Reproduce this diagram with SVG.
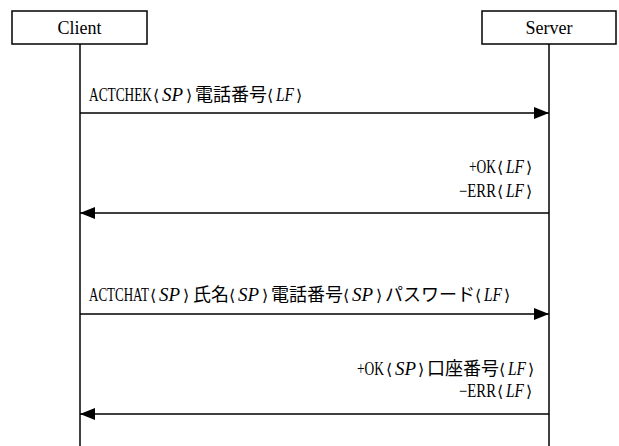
<svg xmlns="http://www.w3.org/2000/svg" width="619" height="446" viewBox="0 0 619 446">
<style>
.box{fill:#fff;stroke:#000;stroke-width:1.5}
.life{stroke:#000;stroke-width:1.5;fill:none}
.msg{stroke:#000;stroke-width:1.5;fill:none;marker-end:url(#ah)}
.t{font-size:18px;fill:#000}
.lbl{font-size:18px;fill:#000}
.it{font-style:italic}
.br{font-size:16px}
.cj{font-size:18px}
</style>
<defs>
<marker id="ah" markerUnits="userSpaceOnUse" markerWidth="15" markerHeight="12" refX="15" refY="6" orient="auto" viewBox="0 0 15 12">
<path d="M0,0 L15,6 L0,12 z" fill="#000"/>
</marker>
</defs>
<g id="client">
<rect class="box" x="12" y="11" width="135" height="33"/>
<text class="lbl" font-family="Liberation Serif, Times New Roman, serif" x="79.5" y="34" text-anchor="middle">Client</text>
<line class="life" x1="80" y1="44" x2="80" y2="446"/>
</g>
<g id="server">
<rect class="box" x="482" y="11" width="134" height="33"/>
<text class="lbl" font-family="Liberation Serif, Times New Roman, serif" x="549" y="34" text-anchor="middle">Server</text>
<line class="life" x1="549" y1="44" x2="549" y2="446"/>
</g>
<g id="connectors">
<line class="msg" x1="80" y1="113" x2="549" y2="113"/>
<line class="msg" x1="549" y1="213" x2="80" y2="213"/>
<line class="msg" x1="80" y1="314" x2="549" y2="314"/>
<line class="msg" x1="549" y1="414" x2="80" y2="414"/>
</g>
<g id="labels" font-family="Liberation Serif, Times New Roman, serif">
<text class="t" y="101"><tspan x="89" textLength="63" lengthAdjust="spacingAndGlyphs">ACTCHEK</tspan><tspan class="br" font-family="DejaVu Serif, DejaVu Sans, serif" x="153">⟨</tspan><tspan class="it" x="162" textLength="21" lengthAdjust="spacingAndGlyphs">SP</tspan><tspan class="br" font-family="DejaVu Serif, DejaVu Sans, serif" x="186">⟩</tspan><tspan class="cj" font-family="Noto Sans CJK JP, sans-serif" x="195">電話番号</tspan><tspan class="br" font-family="DejaVu Serif, DejaVu Sans, serif" x="267">⟨</tspan><tspan class="it" x="276" textLength="18" lengthAdjust="spacingAndGlyphs">LF</tspan><tspan class="br" font-family="DejaVu Serif, DejaVu Sans, serif" x="296">⟩</tspan></text>
<text class="t" y="173"><tspan x="469" textLength="27" lengthAdjust="spacingAndGlyphs">+OK</tspan><tspan class="br" font-family="DejaVu Serif, DejaVu Sans, serif" x="497">⟨</tspan><tspan class="it" x="506" textLength="18" lengthAdjust="spacingAndGlyphs">LF</tspan><tspan class="br" font-family="DejaVu Serif, DejaVu Sans, serif" x="526">⟩</tspan></text>
<text class="t" y="197"><tspan x="459" textLength="37" lengthAdjust="spacingAndGlyphs">−ERR</tspan><tspan class="br" font-family="DejaVu Serif, DejaVu Sans, serif" x="497">⟨</tspan><tspan class="it" x="506" textLength="18" lengthAdjust="spacingAndGlyphs">LF</tspan><tspan class="br" font-family="DejaVu Serif, DejaVu Sans, serif" x="526">⟩</tspan></text>
<text class="t" y="301"><tspan x="89" textLength="60" lengthAdjust="spacingAndGlyphs">ACTCHAT</tspan><tspan class="br" font-family="DejaVu Serif, DejaVu Sans, serif" x="150">⟨</tspan><tspan class="it" x="159" textLength="21" lengthAdjust="spacingAndGlyphs">SP</tspan><tspan class="br" font-family="DejaVu Serif, DejaVu Sans, serif" x="183">⟩</tspan><tspan class="cj" font-family="Noto Sans CJK JP, sans-serif" x="193">氏名</tspan><tspan class="br" font-family="DejaVu Serif, DejaVu Sans, serif" x="229">⟨</tspan><tspan class="it" x="238" textLength="21" lengthAdjust="spacingAndGlyphs">SP</tspan><tspan class="br" font-family="DejaVu Serif, DejaVu Sans, serif" x="262">⟩</tspan><tspan class="cj" font-family="Noto Sans CJK JP, sans-serif" x="271">電話番号</tspan><tspan class="br" font-family="DejaVu Serif, DejaVu Sans, serif" x="343">⟨</tspan><tspan class="it" x="352" textLength="21" lengthAdjust="spacingAndGlyphs">SP</tspan><tspan class="br" font-family="DejaVu Serif, DejaVu Sans, serif" x="376">⟩</tspan><tspan class="cj" font-family="Noto Sans CJK JP, sans-serif" x="385">パスワード</tspan><tspan class="br" font-family="DejaVu Serif, DejaVu Sans, serif" x="475">⟨</tspan><tspan class="it" x="484" textLength="18" lengthAdjust="spacingAndGlyphs">LF</tspan><tspan class="br" font-family="DejaVu Serif, DejaVu Sans, serif" x="504">⟩</tspan></text>
<text class="t" y="375"><tspan x="357" textLength="27" lengthAdjust="spacingAndGlyphs">+OK</tspan><tspan class="br" font-family="DejaVu Serif, DejaVu Sans, serif" x="386">⟨</tspan><tspan class="it" x="395" textLength="21" lengthAdjust="spacingAndGlyphs">SP</tspan><tspan class="br" font-family="DejaVu Serif, DejaVu Sans, serif" x="418">⟩</tspan><tspan class="cj" font-family="Noto Sans CJK JP, sans-serif" x="427">口座番号</tspan><tspan class="br" font-family="DejaVu Serif, DejaVu Sans, serif" x="499">⟨</tspan><tspan class="it" x="508" textLength="18" lengthAdjust="spacingAndGlyphs">LF</tspan><tspan class="br" font-family="DejaVu Serif, DejaVu Sans, serif" x="528">⟩</tspan></text>
<text class="t" y="397"><tspan x="459" textLength="37" lengthAdjust="spacingAndGlyphs">−ERR</tspan><tspan class="br" font-family="DejaVu Serif, DejaVu Sans, serif" x="497">⟨</tspan><tspan class="it" x="506" textLength="18" lengthAdjust="spacingAndGlyphs">LF</tspan><tspan class="br" font-family="DejaVu Serif, DejaVu Sans, serif" x="526">⟩</tspan></text>
</g>
</svg>
